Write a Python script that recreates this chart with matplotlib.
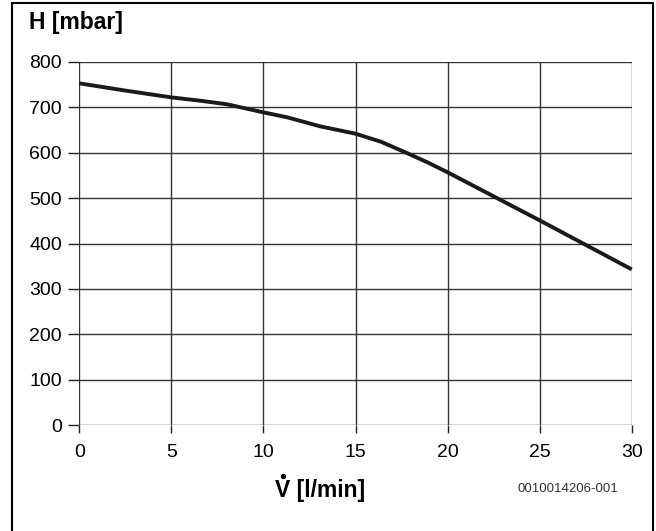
import matplotlib
matplotlib.use("Agg")
import matplotlib.pyplot as plt
from matplotlib.patches import Rectangle
from matplotlib.lines import Line2D

plt.rcParams['font.family'] = ['Liberation Sans', 'DejaVu Sans']

# Pump head curve: flow rate [l/min] vs. residual head [mbar]
flow = [0, 2.5, 5, 6.5, 8, 10, 11.3, 13.1, 15, 16.4, 17.7, 18.9, 20,
        22.5, 25, 27.5, 30]
head = [753, 737, 722, 715, 707, 689, 678, 658, 642, 624, 601, 579, 557,
        504, 451, 397, 343]

x_ticks = [0, 5, 10, 15, 20, 25, 30]
y_ticks = [0, 100, 200, 300, 400, 500, 600, 700, 800]

W, H = 656, 531
fig = plt.figure(figsize=(W / 100, H / 100), dpi=100)

# Frame around the figure (open at the bottom edge)
fig.patches.append(Rectangle((12 / W, -0.1), (653 - 12) / W, 1 - 3 / H + 0.1,
                             transform=fig.transFigure, fill=False,
                             edgecolor='black', linewidth=1.5))

ax = fig.add_axes([79.3 / W, 1 - 425 / H, (631.7 - 79.3) / W, (425 - 62) / H])
ax.set_xlim(0, 30)
ax.set_ylim(0, 800)
for s in ax.spines.values():
    s.set_visible(False)

ax.set_xticks(x_ticks)
ax.set_yticks(y_ticks)
ax.set_xticklabels([str(v) for v in x_ticks])
ax.set_yticklabels([str(v) for v in y_ticks])
ax.tick_params(axis='x', length=6, width=1, color='#222222', pad=7.5,
               labelsize=14)
ax.tick_params(axis='y', length=8, width=1, color='#222222', pad=4.5,
               labelsize=14)
ax.grid(True, color='#333333', linewidth=1)
ax.set_axisbelow(True)

ax.plot(flow, head, color='#1a1a1a', linewidth=2.8, solid_capstyle='butt',
        solid_joinstyle='round', clip_on=False, zorder=3)

fig.text(29 / W, 1 - 29 / H, "H [mbar]", fontsize=16.5, fontweight='bold',
         ha='left', va='baseline')

# Axis label "V̇ [l/min]" with the dot placed over the V
lbl_x, lbl_base = 275, 496.5
fig.text(lbl_x / W, 1 - lbl_base / H, "V [l/min]", fontsize=16.5,
         fontweight='bold', ha='left', va='baseline')
fig.add_artist(Line2D([(lbl_x + 7.8) / W], [1 - 475.5 / H], marker='o',
                      markersize=2.8, color='black', linestyle='none',
                      transform=fig.transFigure))

fig.text(618 / W, 1 - 492 / H, "0010014206-001", fontsize=9.5,
         color='#333333', ha='right', va='baseline')

fig.savefig("out.png", dpi=100)
